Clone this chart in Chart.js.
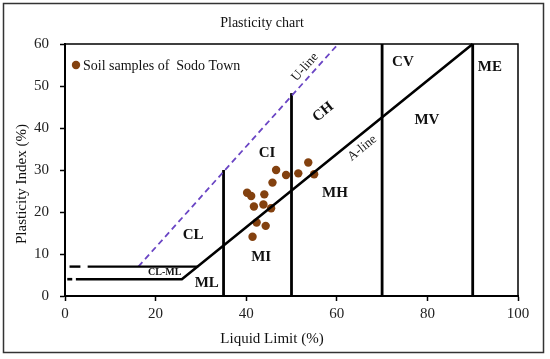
<!DOCTYPE html>
<html>
<head>
<meta charset="utf-8">
<script src="https://cdn.jsdelivr.net/npm/chart.js@4.4.1/dist/chart.umd.min.js"></script>
<style>
html,body{margin:0;padding:0;background:#fff;}
#wrap{width:550px;height:359px;position:relative;}
</style>
</head>
<body>
<div id="wrap"><canvas id="c" width="550" height="359"></canvas></div>
<script>
// Soil samples (Liquid Limit %, Plasticity Index %)
const sampleLL = [53.7, 46.6, 48.8, 51.5, 55.0, 45.8, 40.2, 41.1, 44.0, 41.7, 43.8, 45.5, 42.3, 44.3, 41.4];
const samplePI = [31.8, 30.0, 28.8, 29.2, 29.0, 27.0, 24.6, 23.8, 24.2, 21.3, 21.8, 20.9, 17.5, 16.7, 14.1];

// Boundary lines
const aLineLL = [2.4, 25.8, 90];
const aLinePI = [4, 4, 60];
const aDashLL = [0.5, 1.6];
const aDashPI = [4, 4];
const clmlLL = [5.0, 29.4];
const clmlPI = [7, 7];
const clmlDashLL = [1.0, 3.4];
const clmlDashPI = [7, 7];
const uLineLL = [16.2, 60.3];
const uLinePI = [7, 60];
const vLineLL = [35, 50, 70, 90];
const vLineTopPI = [30, 48.3, 60, 60];

// Zone labels
const zoneText = ['CL', 'CI', 'MI', 'ML', 'CL-ML', 'CV', 'ME', 'MV', 'CH', 'MH'];
const zoneLL = [28.3, 44.6, 43.3, 31.3, 22.0, 74.6, 93.8, 79.9, 57.0, 59.6];
const zonePI = [14.5, 34.0, 9.3, 3.1, 5.7, 55.7, 54.5, 41.9, 43.8, 24.5];

const xTicks = [0, 20, 40, 60, 80, 100];
const yTicks = [0, 10, 20, 30, 40, 50, 60];

const toPts = (xs, ys) => xs.map((x, i) => ({x: x, y: ys[i]}));
const SERIF = '"Liberation Serif", "Times New Roman", serif';
const BROWN = '#83410f';

const lineDs = (label, xs, ys, width, color, dash) => ({
  label: label, data: toPts(xs, ys), showLine: true, borderColor: color || '#000',
  borderWidth: width, pointRadius: 0, borderDash: dash || [], fill: false, clip: false
});

const datasets = [
  lineDs('A-line', aLineLL, aLinePI, 2.6),
  lineDs('A-dash', aDashLL, aDashPI, 2.6),
  lineDs('CL-ML', clmlLL, clmlPI, 2.4),
  lineDs('CL-ML dash', clmlDashLL, clmlDashPI, 2.4),
  lineDs('U-line', uLineLL, uLinePI, 1.8, '#6a45c4', [6, 4])
];
vLineLL.forEach((v, i) => datasets.push(lineDs('LL ' + v, [v, v], [0, vLineTopPI[i]], 2.8)));
datasets.push({
  label: 'Soil samples of  Sodo Town', data: toPts(sampleLL, samplePI), showLine: false,
  pointRadius: 4.2, pointBackgroundColor: BROWN, pointBorderColor: BROWN, pointBorderWidth: 0
});

const overlay = {
  id: 'overlay',
  afterDraw(chart) {
    const ctx = chart.ctx, xs = chart.scales.x, ys = chart.scales.y, a = chart.chartArea;
    ctx.save();
    // plot frame (top and right)
    ctx.strokeStyle = '#000'; ctx.lineWidth = 1.5;
    ctx.beginPath();
    ctx.moveTo(a.left, a.top); ctx.lineTo(a.right, a.top); ctx.lineTo(a.right, a.bottom);
    ctx.stroke();
    // outer border
    ctx.strokeStyle = '#333'; ctx.lineWidth = 1.5;
    ctx.strokeRect(3.5, 3.5, 540, 349);
    // title
    ctx.fillStyle = '#111';
    ctx.textAlign = 'center'; ctx.textBaseline = 'middle';
    ctx.font = '14px ' + SERIF;
    ctx.fillText('Plasticity chart', 262, 23);
    // axis titles
    ctx.font = '15px ' + SERIF;
    ctx.fillText('Liquid Limit (%)', 272, 339);
    ctx.save();
    ctx.translate(22, 184); ctx.rotate(-Math.PI / 2);
    ctx.fillText('Plasticity Index (%)', 0, 0);
    ctx.restore();
    // legend
    ctx.fillStyle = BROWN;
    ctx.beginPath(); ctx.arc(76, 65, 4.2, 0, Math.PI * 2); ctx.fill();
    ctx.fillStyle = '#111'; ctx.textAlign = 'left';
    ctx.font = '14px ' + SERIF;
    ctx.fillText(chart.data.datasets[chart.data.datasets.length - 1].label, 83, 66);
    // zone labels
    ctx.textAlign = 'center';
    zoneText.forEach((t, i) => {
      const px = xs.getPixelForValue(zoneLL[i]), py = ys.getPixelForValue(zonePI[i]);
      ctx.font = (t === 'CL-ML' ? 'bold 10px ' : 'bold 15px ') + SERIF;
      ctx.save(); ctx.translate(px, py);
      if (t === 'CH') ctx.rotate(-0.68);
      ctx.fillText(t, 0, 0);
      ctx.restore();
    });
    // rotated line labels
    ctx.font = '13px ' + SERIF;
    const lab = (t, ll, pi, ang) => {
      ctx.save(); ctx.translate(xs.getPixelForValue(ll), ys.getPixelForValue(pi));
      ctx.rotate(ang); ctx.fillText(t, 0, 0); ctx.restore();
    };
    lab('U-line', 53.0, 54.5, -0.84);
    lab('A-line', 65.6, 35.2, -0.68);
    ctx.restore();
  }
};

new Chart(document.getElementById('c'), {
  type: 'scatter',
  data: { datasets: datasets },
  options: {
    responsive: false, animation: false,
    layout: { padding: { top: 44, right: 32, left: 0, bottom: 0 } },
    plugins: { legend: { display: false }, title: { display: false }, tooltip: { enabled: false } },
    scales: {
      x: {
        type: 'linear', min: 0, max: 100,
        afterFit: s => { s.height = 63; },
        afterBuildTicks: s => { s.ticks = xTicks.map(v => ({value: v})); },
        grid: { drawOnChartArea: false, drawTicks: true, tickLength: 5, color: '#000', tickWidth: 1.5 },
        border: { color: '#000', width: 2 },
        ticks: { color: '#222', padding: 4, font: { family: SERIF, size: 15 } }
      },
      y: {
        type: 'linear', min: 0, max: 60,
        afterFit: s => { s.width = 65; },
        afterBuildTicks: s => { s.ticks = yTicks.map(v => ({value: v})); },
        grid: { drawOnChartArea: false, drawTicks: true, tickLength: 5, color: '#000', tickWidth: 1.5 },
        border: { color: '#000', width: 2 },
        ticks: { color: '#222', padding: 11, font: { family: SERIF, size: 15 } }
      }
    }
  },
  plugins: [overlay]
});
</script>
</body>
</html>
